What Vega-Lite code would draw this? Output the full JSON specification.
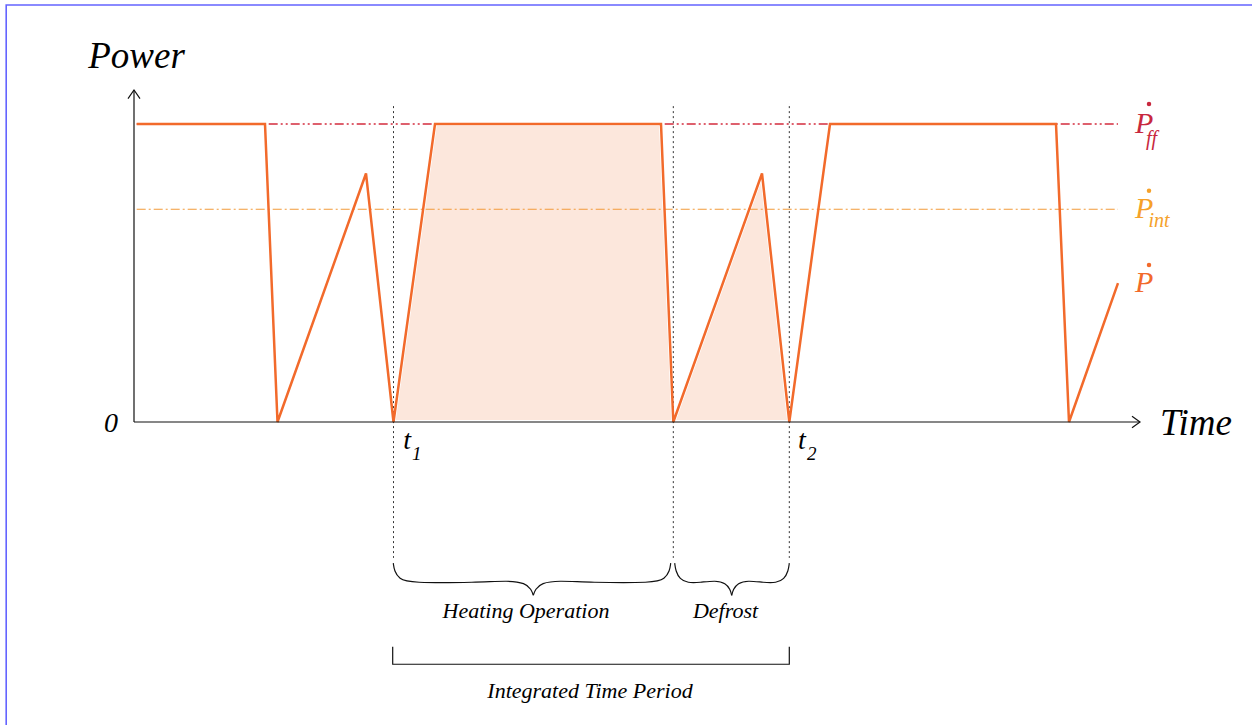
{
  "$schema": "https://vega.github.io/schema/vega-lite/v6.json",
  "width": 1252,
  "height": 725,
  "padding": 0,
  "autosize": {"type": "none"},
  "background": "white",
  "config": {"view": {"stroke": null}},
  "encoding": {
    "x": {"field": "t", "type": "quantitative", "scale": {"domain": [-134, 1118], "nice": false, "zero": false}, "axis": null},
    "y": {"field": "p", "type": "quantitative", "scale": {"domain": [-101.6779, 141.6107], "nice": false, "zero": false}, "axis": null}
  },
  "layer": [
    {
      "data": {"values": [
        {"id": "frame", "ord": 1, "t": -127.8, "p": -101.68},
        {"id": "frame", "ord": 2, "t": -127.8, "p": 139.93},
        {"id": "frame", "ord": 3, "t": 1118, "p": 139.93}
      ]},
      "mark": {"type": "line", "color": "#6464ff", "strokeWidth": 1.6},
      "encoding": {"order": {"field": "ord", "type": "quantitative"}}
    },
    {
      "data": {"values": [
        {"t": 259.5, "p": 0}, {"t": 301, "p": 100}, {"t": 527, "p": 100},
        {"t": 539.3, "p": 0}, {"t": 628, "p": 83.4}, {"t": 655.3, "p": 0}
      ]},
      "mark": {"type": "area", "fill": "#fce7dc", "stroke": "white", "strokeWidth": 4},
      "encoding": {"y2": {"datum": 0}}
    },
    {
      "data": {"values": [{"t": 2.7, "p": 100}, {"t": 984, "p": 100}]},
      "mark": {"type": "line", "color": "#d42c3e", "strokeWidth": 1.3, "strokeDash": [9, 3, 2, 3, 2, 3]},
      "encoding": {}
    },
    {
      "data": {"values": [{"t": 2.7, "p": 71.4}, {"t": 984, "p": 71.4}]},
      "mark": {"type": "line", "color": "#f29a3a", "strokeWidth": 1.2, "strokeDash": [9, 3, 2, 3]},
      "encoding": {}
    },
    {
      "data": {"values": [
        {"t": 259.5, "p": 106, "p2": -45.6},
        {"t": 539.3, "p": 106, "p2": -45.6},
        {"t": 655.3, "p": 106, "p2": -45.6}
      ]},
      "mark": {"type": "rule", "color": "#333333", "strokeWidth": 1, "strokeDash": [2, 3]},
      "encoding": {"y2": {"field": "p2"}}
    },
    {
      "data": {"values": [
        {"t": 2.7, "p": 100}, {"t": 131, "p": 100}, {"t": 143.5, "p": 0}, {"t": 232, "p": 83.4},
        {"t": 259.5, "p": 0}, {"t": 301, "p": 100}, {"t": 527, "p": 100}, {"t": 539.3, "p": 0},
        {"t": 628, "p": 83.4}, {"t": 655.3, "p": 0}, {"t": 696, "p": 100}, {"t": 922, "p": 100},
        {"t": 935, "p": 0}, {"t": 984, "p": 46.6}
      ]},
      "mark": {"type": "line", "color": "#f26a2b", "strokeWidth": 2.5},
      "encoding": {}
    },
    {
      "data": {"values": [
        {"id": "yaxis", "ord": 1, "t": 0, "p": 0},
        {"id": "yaxis", "ord": 2, "t": 0, "p": 111.4},
        {"id": "yarrow", "ord": 1, "t": -6, "p": 108.5},
        {"id": "yarrow", "ord": 2, "t": 0, "p": 111.4},
        {"id": "yarrow", "ord": 3, "t": 6, "p": 108.5},
        {"id": "xaxis", "ord": 1, "t": 0, "p": 0},
        {"id": "xaxis", "ord": 2, "t": 1006, "p": 0},
        {"id": "xarrow", "ord": 1, "t": 998, "p": 1.9},
        {"id": "xarrow", "ord": 2, "t": 1006, "p": 0},
        {"id": "xarrow", "ord": 3, "t": 998, "p": -1.9},
        {"id": "bracket", "ord": 1, "t": 258.7, "p": -75.4},
        {"id": "bracket", "ord": 2, "t": 258.7, "p": -81.3},
        {"id": "bracket", "ord": 3, "t": 655.3, "p": -81.3},
        {"id": "bracket", "ord": 4, "t": 655.3, "p": -75.4}
      ]},
      "mark": {"type": "line", "color": "#111111", "strokeWidth": 1.2},
      "encoding": {"detail": {"field": "id"}, "order": {"field": "ord", "type": "quantitative"}}
    },
    {
      "data": {"values": [
        {"id": "h1", "ord": 1, "t": 259.3, "p": -47.38},
        {"id": "h1", "ord": 2, "t": 260.3, "p": -49.99},
        {"id": "h1", "ord": 3, "t": 265.3, "p": -52.68},
        {"id": "h1", "ord": 4, "t": 275.3, "p": -54.03},
        {"id": "h1", "ord": 5, "t": 344.3, "p": -53.86},
        {"id": "h1", "ord": 6, "t": 374.3, "p": -53.19},
        {"id": "h1", "ord": 7, "t": 391.3, "p": -54.03},
        {"id": "h1", "ord": 8, "t": 397.3, "p": -56.14},
        {"id": "h1", "ord": 9, "t": 399.3, "p": -58.15},
        {"id": "h2", "ord": 1, "t": 399.3, "p": -58.15},
        {"id": "h2", "ord": 2, "t": 401.3, "p": -56.14},
        {"id": "h2", "ord": 3, "t": 407.3, "p": -54.03},
        {"id": "h2", "ord": 4, "t": 424.3, "p": -53.19},
        {"id": "h2", "ord": 5, "t": 454.3, "p": -53.86},
        {"id": "h2", "ord": 6, "t": 520.7, "p": -54.03},
        {"id": "h2", "ord": 7, "t": 530.7, "p": -52.68},
        {"id": "h2", "ord": 8, "t": 535.7, "p": -49.99},
        {"id": "h2", "ord": 9, "t": 536.7, "p": -47.38},
        {"id": "d1", "ord": 1, "t": 540.7, "p": -47.38},
        {"id": "d1", "ord": 2, "t": 541.7, "p": -49.99},
        {"id": "d1", "ord": 3, "t": 545.7, "p": -52.68},
        {"id": "d1", "ord": 4, "t": 553.7, "p": -54.03},
        {"id": "d1", "ord": 5, "t": 565.7, "p": -53.86},
        {"id": "d1", "ord": 6, "t": 581.7, "p": -53.19},
        {"id": "d1", "ord": 7, "t": 591.7, "p": -54.03},
        {"id": "d1", "ord": 8, "t": 596.2, "p": -56.14},
        {"id": "d1", "ord": 9, "t": 597.7, "p": -58.15},
        {"id": "d2", "ord": 1, "t": 597.7, "p": -58.15},
        {"id": "d2", "ord": 2, "t": 599.2, "p": -56.14},
        {"id": "d2", "ord": 3, "t": 603.7, "p": -54.03},
        {"id": "d2", "ord": 4, "t": 613.7, "p": -53.19},
        {"id": "d2", "ord": 5, "t": 629.7, "p": -53.86},
        {"id": "d2", "ord": 6, "t": 642.3, "p": -54.03},
        {"id": "d2", "ord": 7, "t": 650.3, "p": -52.68},
        {"id": "d2", "ord": 8, "t": 654.3, "p": -49.99},
        {"id": "d2", "ord": 9, "t": 655.3, "p": -47.38}
      ]},
      "mark": {"type": "line", "color": "#111111", "strokeWidth": 1.2, "interpolate": "basis"},
      "encoding": {"detail": {"field": "id"}, "order": {"field": "ord", "type": "quantitative"}}
    },
    {
      "data": {"values": [
        {"label": "Power", "t": 2.5, "p": 118.8},
        {"label": "Time", "t": 1062, "p": -4.36}
      ]},
      "mark": {"type": "text", "font": "Liberation Serif", "fontStyle": "italic", "fontSize": 37, "align": "center", "baseline": "alphabetic", "color": "#000000"},
      "encoding": {"text": {"field": "label"}}
    },
    {
      "data": {"values": [{"label": "0", "t": -23, "p": -3.4}]},
      "mark": {"type": "text", "font": "Liberation Serif", "fontStyle": "italic", "fontSize": 28, "align": "center", "baseline": "alphabetic", "color": "#000000"},
      "encoding": {"text": {"field": "label"}}
    },
    {
      "data": {"values": [
        {"label": "t", "t": 269.3, "p": -9.06},
        {"label": "t", "t": 664, "p": -9.06}
      ]},
      "mark": {"type": "text", "font": "Liberation Serif", "fontStyle": "italic", "fontSize": 28, "align": "left", "baseline": "alphabetic", "color": "#000000"},
      "encoding": {"text": {"field": "label"}}
    },
    {
      "data": {"values": [
        {"label": "1", "t": 278, "p": -12.75},
        {"label": "2", "t": 673, "p": -12.75}
      ]},
      "mark": {"type": "text", "font": "Liberation Serif", "fontStyle": "italic", "fontSize": 19, "align": "left", "baseline": "alphabetic", "color": "#000000"},
      "encoding": {"text": {"field": "label"}}
    },
    {
      "data": {"values": [
        {"name": "ff", "label": "P", "t": 1001, "p": 97.1},
        {"name": "int", "label": "P", "t": 1001, "p": 68.4},
        {"name": "P", "label": "P", "t": 1001, "p": 43.7}
      ]},
      "mark": {"type": "text", "font": "Liberation Serif", "fontStyle": "italic", "fontSize": 30, "align": "left", "baseline": "alphabetic"},
      "encoding": {
        "text": {"field": "label"},
        "color": {"field": "name", "type": "nominal", "scale": {"domain": ["ff", "int", "P"], "range": ["#c8283e", "#f5a12a", "#f26a2b"]}, "legend": null}
      }
    },
    {
      "data": {"values": [
        {"name": "ff", "label": "ff", "t": 1012, "p": 92.95},
        {"name": "int", "label": "int", "t": 1014.5, "p": 65.3}
      ]},
      "mark": {"type": "text", "font": "Liberation Serif", "fontStyle": "italic", "fontSize": 20, "align": "left", "baseline": "alphabetic"},
      "encoding": {
        "text": {"field": "label"},
        "color": {"field": "name", "type": "nominal", "scale": {"domain": ["ff", "int", "P"], "range": ["#c8283e", "#f5a12a", "#f26a2b"]}, "legend": null}
      }
    },
    {
      "data": {"values": [
        {"name": "ff", "t": 1015, "p": 106.7},
        {"name": "int", "t": 1015, "p": 77.6},
        {"name": "P", "t": 1015, "p": 52.7}
      ]},
      "mark": {"type": "point", "filled": true, "size": 20, "opacity": 1, "strokeWidth": 0},
      "encoding": {
        "color": {"field": "name", "type": "nominal", "scale": {"domain": ["ff", "int", "P"], "range": ["#c8283e", "#f5a12a", "#f26a2b"]}, "legend": null}
      }
    },
    {
      "data": {"values": [
        {"label": "Heating Operation", "t": 392, "p": -65.8},
        {"label": "Defrost", "t": 591.5, "p": -65.8}
      ]},
      "mark": {"type": "text", "font": "Liberation Serif", "fontStyle": "italic", "fontSize": 22, "align": "center", "baseline": "alphabetic", "color": "#000000"},
      "encoding": {"text": {"field": "label"}}
    },
    {
      "data": {"values": [{"label": "Integrated Time Period", "t": 456, "p": -92.5}]},
      "mark": {"type": "text", "font": "Liberation Serif", "fontStyle": "italic", "fontSize": 22, "align": "center", "baseline": "alphabetic", "color": "#000000"},
      "encoding": {"text": {"field": "label"}}
    }
  ]
}
